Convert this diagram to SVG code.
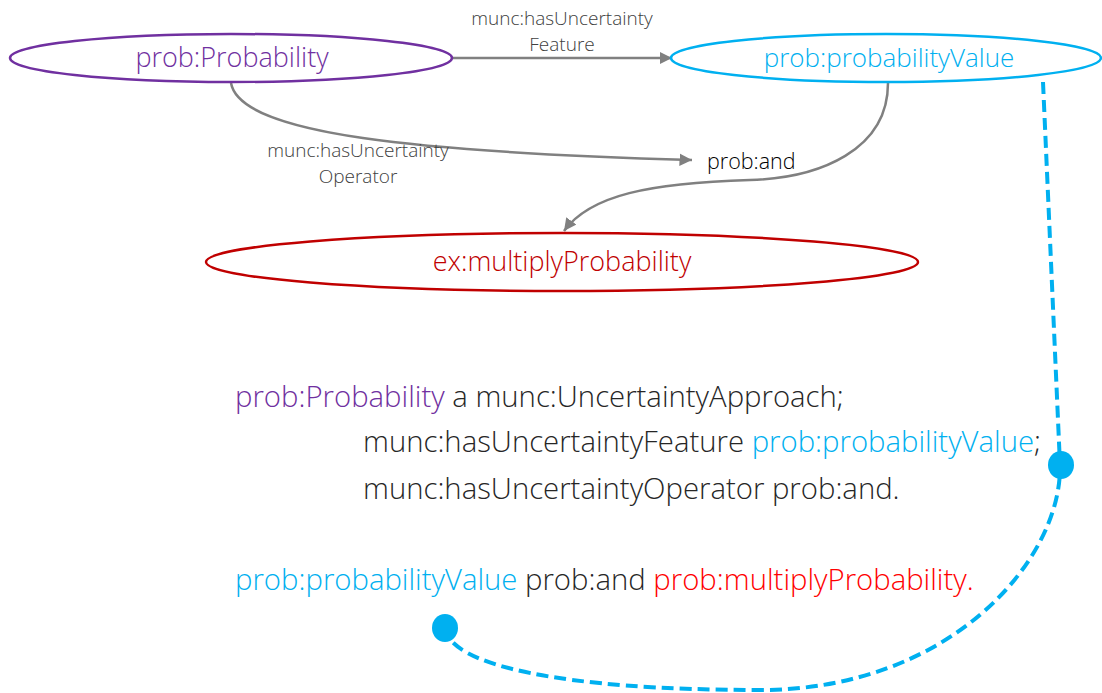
<svg xmlns="http://www.w3.org/2000/svg" width="1102" height="693" viewBox="0 0 1102 693">
<defs>
<style>
text{font-family:"Open Sans","Liberation Sans",sans-serif;font-weight:300}
.node{fill:#fff;stroke-width:2.5}
.edge{fill:none;stroke:#808080;stroke-width:2.5}
.lbl{font-size:19px;fill:#404040;text-anchor:middle}
.code{font-size:29.3px;fill:#262626}
.pu{fill:#7030A0}
.bl{fill:#00B0F0}
.rd{fill:#FF0000}
.dash{fill:none;stroke:#00B0F0;stroke-width:4;stroke-dasharray:12 6}
</style>
<marker id="arr" viewBox="0 0 10 10" refX="10" refY="5" markerWidth="5" markerHeight="5" markerUnits="strokeWidth" orient="auto">
<path d="M0,0 L10,5 L0,10 z" fill="#808080"/>
</marker>
</defs>
<rect width="1102" height="693" fill="#fff"/>
<g id="connectors">
<path class="edge" d="M453 58 L672 58" marker-end="url(#arr)"/>
<path class="edge" d="M231 83 C240 135 420 152 692 160" marker-end="url(#arr)"/>
<path class="edge" d="M888 83 C888 150 820 178 750 180 C650 183 590 195 564 231" marker-end="url(#arr)"/>
<text class="lbl" x="562" y="25">munc:hasUncertainty</text>
<text class="lbl" x="562" y="51">Feature</text>
<text class="lbl" x="358" y="157">munc:hasUncertainty</text>
<text class="lbl" x="358" y="183">Operator</text>
<path class="dash" d="M1043 82 L1060 465 C1062 560 950 690 760 690 C560 690 450 665 445 628"/>
<ellipse cx="1061" cy="465" rx="13" ry="14" fill="#00B0F0"/>
<ellipse cx="445" cy="628" rx="13" ry="14" fill="#00B0F0"/>
</g>
<g id="n-probability">
<ellipse class="node" cx="231" cy="58" rx="221" ry="24" stroke="#7030A0"/>
<text class="pu" x="232" y="67" font-size="27" text-anchor="middle">prob:Probability</text>
</g>
<g id="n-probabilityValue">
<ellipse class="node" cx="886" cy="58" rx="215" ry="24" stroke="#00B0F0"/>
<text class="bl" x="889" y="67" font-size="26" text-anchor="middle">prob:probabilityValue</text>
</g>
<g id="n-and">
<text x="707" y="169" font-size="21.5" fill="#000">prob:and</text>
</g>
<g id="n-multiply">
<ellipse class="node" cx="562" cy="262" rx="356" ry="29" stroke="#C00000"/>
<text x="562" y="271" font-size="27" text-anchor="middle" fill="#C00000">ex:multiplyProbability</text>
</g>
<g id="code">
<text class="code" x="235" y="407"><tspan class="pu">prob:Probability</tspan> a munc:UncertaintyApproach;</text>
<text class="code" x="363" y="452">munc:hasUncertaintyFeature <tspan class="bl">prob:probabilityValue</tspan>;</text>
<text class="code" x="363" y="499">munc:hasUncertaintyOperator prob:and.</text>
<text class="code" x="235" y="590"><tspan class="bl">prob:probabilityValue</tspan> prob:and <tspan class="rd">prob:multiplyProbability.</tspan></text>
</g>
</svg>
